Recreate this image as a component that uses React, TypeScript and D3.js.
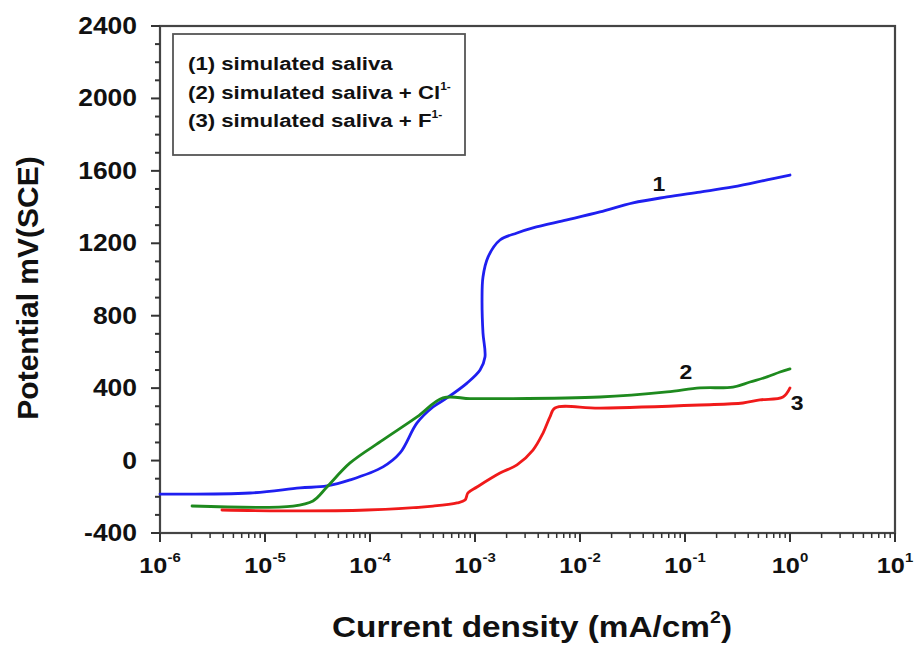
import React from "react";
import * as d3 from "d3";

// ---- data (log10 current density in mA/cm^2 → current, potential mV) ----
const series1Current = [-6.0, -5.143, -4.667, -4.41, -4.19, -3.876, -3.714, -3.552, -3.4, -3.267, -3.076, -2.952, -2.905, -2.924, -2.933, -2.924, -2.876, -2.762, -2.6, -2.448, -2.124, -1.81, -1.495, -1.171, -0.857, -0.543, -0.219, 0.0];
const series1Potential = [-185, -179, -151, -140, -107, -35, 42, 208, 296, 346, 428, 500, 572, 705, 887, 1014, 1124, 1218, 1257, 1285, 1329, 1373, 1423, 1456, 1483, 1511, 1550, 1577];

const series2Current = [-5.695, -4.733, -4.543, -4.41, -4.19, -3.876, -3.552, -3.305, -3.048, -2.762, -1.81, -1.171, -0.857, -0.543, -0.381, -0.219, -0.095, 0.0];
const series2Potential = [-251, -251, -223, -146, -13, 114, 241, 346, 342, 342, 351, 379, 401, 406, 434, 462, 489, 506];

const series3Current = [-5.41, -4.829, -4.029, -3.4, -3.171, -3.095, -3.067, -2.981, -2.762, -2.6, -2.448, -2.352, -2.286, -2.238, -1.81, -0.857, -0.448, -0.286, -0.067, 0.0];
const series3Potential = [-273, -278, -273, -251, -234, -218, -179, -146, -69, -24, 58, 152, 241, 290, 290, 307, 318, 335, 351, 401];

const yTicks = [-400, 0, 400, 800, 1200, 1600, 2000, 2400];
const xTickExponents = [-6, -5, -4, -3, -2, -1, 0, 1];
const legendLabels = ["(1) simulated saliva", "(2) simulated saliva + Cl", "(3) simulated saliva + F"];
const legendSups = ["", "1-", "1-"];
const curveLabels = ["1", "2", "3"];
const curveLabelCurrent = [0.0565, 0.102, 1.17];
const curveLabelPotential = [1489, 450, 279];

const COLORS = ["#1f1ff0", "#1e8a1e", "#f01a1a"];
const FONT = "'Liberation Sans', Arial, sans-serif";
const SX = 1.15;

const M = { left: 160, right: 895, top: 26, bottom: 533 };

export default function App() {
  const x = d3.scaleLog().domain([1e-6, 1e1]).range([M.left, M.right]);
  const y = d3.scaleLinear().domain([-400, 2400]).range([M.bottom, M.top]);

  const mk = (cs: number[], ps: number[]) =>
    cs.map((c, i) => [Math.pow(10, c), ps[i]] as [number, number]);
  const allSeries = [
    mk(series1Current, series1Potential),
    mk(series2Current, series2Potential),
    mk(series3Current, series3Potential),
  ];
  const line = d3
    .line<[number, number]>()
    .x((d) => x(d[0]))
    .y((d) => y(d[1]))
    .curve(d3.curveCatmullRom.alpha(0.5));

  const yMinor = d3.range(-400, 2401, 100).filter((v) => v % 400 !== 0);
  const xMinor: number[] = [];
  for (let e = -6; e < 1; e++) for (let k = 2; k <= 9; k++) xMinor.push(k * Math.pow(10, e));

  const axisColor = "#333";

  return (
    <svg width={916} height={650} style={{ position: "absolute", left: 0, top: 0, background: "#fff" }}>
      {/* frame */}
      <rect x={M.left} y={M.top} width={M.right - M.left} height={M.bottom - M.top} fill="none" stroke="#444" strokeWidth={2.2} />
      {/* y ticks */}
      {yTicks.map((t) => (
        <g key={"y" + t}>
          <line x1={M.left - 9} x2={M.left} y1={y(t)} y2={y(t)} stroke={axisColor} strokeWidth={2} />
          <text
            transform={`translate(${M.left - 23},${y(t) + 8}) scale(${SX},1)`}
            textAnchor="end"
            fontFamily={FONT}
            fontWeight="bold"
            fontSize={23}
            fill="#111"
          >
            {t}
          </text>
        </g>
      ))}
      {yMinor.map((t) => (
        <line key={"ym" + t} x1={M.left - 5} x2={M.left} y1={y(t)} y2={y(t)} stroke={axisColor} strokeWidth={2} />
      ))}
      {/* x ticks */}
      {xTickExponents.map((e) => {
        const v = Math.pow(10, e);
        return (
          <g key={"x" + e}>
            <line x1={x(v)} x2={x(v)} y1={M.bottom} y2={M.bottom + 9} stroke={axisColor} strokeWidth={2} />
            <text
              transform={`translate(${x(v)},${M.bottom + 40}) scale(${SX},1)`}
              textAnchor="middle"
              fontFamily={FONT}
              fontWeight="bold"
              fontSize={22}
              fill="#111"
            >
              10
              <tspan fontSize={13} dy={-11}>
                {e}
              </tspan>
            </text>
          </g>
        );
      })}
      {xMinor.map((v, i) => (
        <line key={"xm" + i} x1={x(v)} x2={x(v)} y1={M.bottom} y2={M.bottom + 5} stroke={axisColor} strokeWidth={1.5} />
      ))}
      {/* curves */}
      {allSeries.map((s, i) => (
        <path key={"s" + i} d={line(s) || ""} fill="none" stroke={COLORS[i]} strokeWidth={2.8} strokeLinejoin="round" strokeLinecap="round" />
      ))}
      {/* curve labels */}
      {curveLabels.map((l, i) => (
        <text
          key={"cl" + i}
          transform={`translate(${x(curveLabelCurrent[i])},${y(curveLabelPotential[i])}) scale(${SX},1)`}
          textAnchor="middle"
          fontFamily={FONT}
          fontWeight="bold"
          fontSize={20}
          fill="#111"
        >
          {l}
        </text>
      ))}
      {/* legend */}
      <rect x={173} y={34} width={292} height={121} fill="#fff" stroke="#555" strokeWidth={1.8} />
      {legendLabels.map((l, i) => (
        <text
          key={"lg" + i}
          transform={`translate(188,${70 + i * 28.5}) scale(1.2,1)`}
          fontFamily={FONT}
          fontWeight="bold"
          fontSize={18.5}
          fill="#111"
        >
          {l}
          {legendSups[i] && (
            <tspan fontSize={10} dy={-9}>
              {legendSups[i]}
            </tspan>
          )}
        </text>
      ))}
      {/* axis titles */}
      <text
        transform={`translate(532,637) scale(${SX},1)`}
        textAnchor="middle"
        fontFamily={FONT}
        fontWeight="bold"
        fontSize={29}
        fill="#111"
      >
        Current density (mA/cm
        <tspan fontSize={17} dy={-14}>2</tspan>
        <tspan dy={14}>)</tspan>
      </text>
      <text
        transform={`translate(38,288) rotate(-90)`}
        textAnchor="middle"
        fontFamily={FONT}
        fontWeight="bold"
        fontSize={30}
        fill="#111"
      >
        Potential mV(SCE)
      </text>
    </svg>
  );
}
